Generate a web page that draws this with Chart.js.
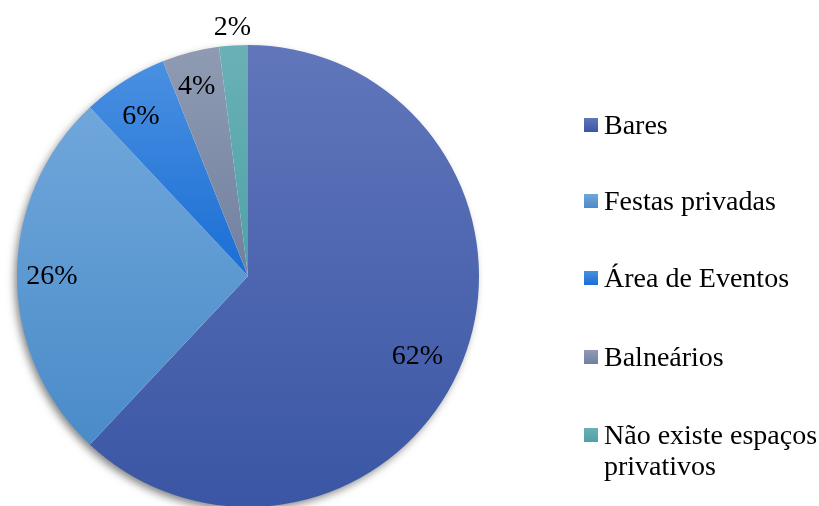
<!DOCTYPE html>
<html>
<head>
<meta charset="utf-8">
<script src="https://cdn.jsdelivr.net/npm/chart.js@4/dist/chart.umd.min.js"></script>
<style>
  html, body { margin: 0; padding: 0; background: #fff; overflow: hidden; }
  #wrap { position: relative; width: 819px; height: 506px; overflow: hidden; }
  #grafico { position: absolute; left: 0; top: 0; }
  #legenda { position: absolute; left: 584px; top: 0; font-family: "Liberation Serif", "Times New Roman", serif; font-size: 28px; color: #000; }
  .item { position: absolute; left: 0; display: flex; align-items: flex-start; white-space: nowrap; line-height: 31px; }
  .quad { width: 14px; height: 14px; margin-top: 9px; margin-right: 6px; flex: none; }
</style>
</head>
<body>
<div id="wrap">
  <canvas id="grafico" width="819" height="520"></canvas>
  <div id="legenda"></div>
</div>
<script>
// dados do gráfico
const categorias = ["Bares", "Festas privadas", "Área de Eventos", "Balneários", ["Não existe espaços", "privativos"]];
const valores = [62, 26, 6, 4, 2];

// cores (topo / base) de cada fatia
const coresTopo = ["#6176bb", "#70a7db", "#4a90e1", "#8f9bb2", "#6ab1b5"];
const coresBase = ["#3a56a4", "#4a8bc8", "#1a6ed5", "#7080a0", "#4ea2a7"];
const coresLegenda = ["#4561ad", "#5e9bd3", "#1f74d9", "#8390aa", "#56a8ad"];

const legendaTop = [109, 185, 262, 341, 419];

// legenda em HTML
const legenda = document.getElementById("legenda");
categorias.forEach((cat, i) => {
    const div = document.createElement("div");
    div.className = "item";
    div.style.top = legendaTop[i] + "px";
    const q = document.createElement("span");
    q.className = "quad";
    q.style.background = `linear-gradient(${coresTopo[i]}, ${coresBase[i]})`;
    const t = document.createElement("span");
    t.innerHTML = Array.isArray(cat) ? cat.join("<br>") : cat;
    div.appendChild(q);
    div.appendChild(t);
    legenda.appendChild(div);
});

// extensão vertical de cada fatia para o gradiente
function extensaoFatia(i, cx, cy, r) {
    const total = valores.reduce((a, b) => a + b, 0);
    let ini = -Math.PI / 2;
    for (let k = 0; k < i; k++) ini += valores[k] / total * Math.PI * 2;
    const fim = ini + valores[i] / total * Math.PI * 2;
    const ys = [cy, cy + r * Math.sin(ini), cy + r * Math.sin(fim)];
    for (let a = -Math.PI / 2; a < Math.PI * 2; a += Math.PI) {
        if (a > ini && a < fim) ys.push(cy + r * Math.sin(a));
    }
    return [Math.min(...ys), Math.max(...ys)];
}

function corFatia(context) {
    const chart = context.chart;
    const area = chart.chartArea;
    const i = context.dataIndex;
    if (!area || i === undefined) return coresLegenda[i] || "#888";
    const cx = (area.left + area.right) / 2;
    const cy = (area.top + area.bottom) / 2;
    const r = Math.min(area.width, area.height) / 2;
    const [y0, y1] = extensaoFatia(i, cx, cy, r);
    const g = chart.ctx.createLinearGradient(0, y0, 0, y1);
    g.addColorStop(0, coresTopo[i]);
    g.addColorStop(1, coresBase[i]);
    return g;
}

// sombra do disco
const sombraPlugin = {
    id: "sombra",
    beforeDatasetsDraw(chart) {
        const arc = chart.getDatasetMeta(0).data[0];
        if (!arc) return;
        const ctx = chart.ctx;
        ctx.save();
        ctx.shadowColor = "rgba(0,0,0,0.5)";
        ctx.shadowBlur = 9;
        ctx.shadowOffsetX = -3;
        ctx.shadowOffsetY = 4;
        ctx.fillStyle = "#fff";
        ctx.beginPath();
        ctx.arc(arc.x, arc.y, arc.outerRadius - 1, 0, Math.PI * 2);
        ctx.fill();
        ctx.restore();
    }
};

// rótulos de porcentagem
const rotulosPlugin = {
    id: "rotulos",
    afterDatasetsDraw(chart, args, opts) {
        const ctx = chart.ctx;
        const meta = chart.getDatasetMeta(0);
        ctx.save();
        ctx.font = '28px "Liberation Serif", "Times New Roman", serif';
        ctx.fillStyle = "#000";
        ctx.textAlign = "center";
        ctx.textBaseline = "middle";
        meta.data.forEach((arc, i) => {
            const meio = (arc.startAngle + arc.endAngle) / 2;
            const fator = valores[i] < 3 ? 1.08 : 0.84;
            const aj = (opts.ajuste && opts.ajuste[i]) || [0, 0];
            const x = arc.x + Math.cos(meio) * arc.outerRadius * fator + aj[0];
            const y = arc.y + Math.sin(meio) * arc.outerRadius * fator + aj[1];
            ctx.fillText(valores[i] + "%", x, y + 1);
        });
        ctx.restore();
    }
};

const ctx = document.getElementById("grafico").getContext("2d");
new Chart(ctx, {
    type: "pie",
    data: {
        labels: categorias,
        datasets: [{
            data: valores,
            backgroundColor: corFatia,
            borderWidth: 0,
            hoverOffset: 0
        }]
    },
    options: {
        responsive: false,
        animation: false,
        events: [],
        layout: { padding: { left: 17, top: 45, right: 340, bottom: 13 } },
        plugins: {
            legend: { display: false },
            tooltip: { enabled: false },
            title: { display: false },
            rotulos: { ajuste: { 0: [-11, 8], 1: [-2, 0], 2: [-3, 3], 3: [-3, -2] } }
        }
    },
    plugins: [sombraPlugin, rotulosPlugin]
});
</script>
</body>
</html>
